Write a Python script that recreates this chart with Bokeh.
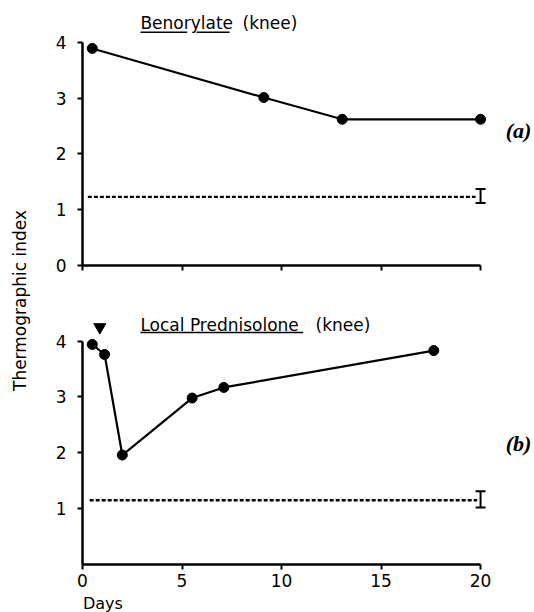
from bokeh.plotting import figure
from bokeh.models import Range1d, FixedTicker, Whisker, ColumnDataSource, TeeHead
from bokeh.layouts import row, column
from bokeh.core.properties import value
from bokeh.embed import file_html
from bokeh.resources import INLINE
import math

# ---------------- data ----------------
top_days = [0.49, 9.11, 13.05, 20.0]
top_index = [3.89, 3.01, 2.62, 2.62]

bot_days = [0.49, 1.11, 2.0, 5.51, 7.10, 17.65]
bot_index = [3.94, 3.76, 1.96, 2.98, 3.17, 3.83]

top_normal_days = [0.27, 19.75]
top_normal_mean = 1.23
top_normal_err = (1.12, 1.37)

bot_normal_days = [0.36, 19.83]
bot_normal_mean = 1.15
bot_normal_err = (1.02, 1.31)

injection_day = [0.87]
injection_mark = [4.25]

x_ticks = [0, 5, 10, 15, 20]
top_y_ticks = [0, 1, 2, 3, 4]
bot_y_ticks = [1, 2, 3, 4]

FONT = "DejaVu Sans"
X_END = 22.71


def clean(p):
    p.xgrid.grid_line_color = None
    p.ygrid.grid_line_color = None
    p.outline_line_color = None


def style_axes(p, yticks, show_x_labels):
    for ax in (p.xaxis[0], p.yaxis[0]):
        ax.axis_line_width = 2.5
        ax.axis_line_color = "black"
        ax.major_tick_line_width = 2
        ax.major_tick_line_color = "black"
        ax.major_tick_in = 0
        ax.major_tick_out = 5
        ax.minor_tick_line_color = None
        ax.major_label_text_font = FONT
        ax.major_label_text_font_size = "17px"
        ax.major_label_text_color = "black"
    xa = p.xaxis[0]
    xa.bounds = (0, 20)
    xa.ticker = FixedTicker(ticks=x_ticks)
    if show_x_labels:
        xa.major_label_standoff = 4
    else:
        # tick marks only, the labels are not drawn
        xa.major_label_text_color = None
        xa.major_label_text_font_size = "10px"
        xa.major_label_standoff = 0
    p.yaxis[0].ticker = FixedTicker(ticks=yticks)
    p.yaxis[0].bounds = (0, 4)
    p.yaxis[0].major_label_standoff = 11
    clean(p)


def add_series(p, days, vals, nd, nmean, nerr):
    p.line(days, vals, line_width=2.2, line_color="black")
    p.scatter(days, vals, size=10, marker="circle", fill_color="black", line_color="black")
    p.line(nd, [nmean, nmean], line_width=2.4, line_color="black", line_dash="4 2")
    src = ColumnDataSource(dict(base=[20.0], lower=[nerr[0]], upper=[nerr[1]]))
    w = Whisker(base="base", lower="lower", upper="upper", source=src, dimension="height",
                line_width=2, line_color="black",
                upper_head=TeeHead(size=10, line_width=2, line_color="black"),
                lower_head=TeeHead(size=10, line_width=2, line_color="black"))
    p.add_layout(w)


def add_title(p, words, y_mid, underline_segs, y_ul):
    for txt, x in words:
        p.text(x=[x], y=[y_mid], text=[txt], text_font=value(FONT), text_font_size="17px",
               text_baseline="middle", text_align="left", text_color="black")
    p.segment(x0=[s[0] for s in underline_segs], y0=[y_ul] * len(underline_segs),
              x1=[s[1] for s in underline_segs], y1=[y_ul] * len(underline_segs),
              line_width=1.5, line_color="black")


def add_tag(p, txt, y):
    p.text(x=[21.26], y=[y], text=[txt], text_font=value("Liberation Serif"),
           text_font_style="bold italic", text_font_size="22px",
           text_baseline="middle", text_align="left", text_color="black")


# ---------------- top panel ----------------
top = figure(width=496, height=290, output_backend="svg", toolbar_location=None,
             x_range=Range1d(0, X_END), y_range=Range1d(0, 4.749),
             min_border_left=44, min_border_right=0, min_border_top=0, min_border_bottom=25)
style_axes(top, top_y_ticks, False)
add_series(top, top_days, top_index, top_normal_days, top_normal_mean, top_normal_err)
add_title(top, [("Benorylate", 2.91), ("(knee)", 8.04)], 4.337, [(2.91, 5.26), (5.73, 7.39)], 4.18)
add_tag(top, "(a)", 2.42)

# ---------------- bottom panel ----------------
bot = figure(width=496, height=304, output_backend="svg", toolbar_location=None,
             x_range=Range1d(0, X_END), y_range=Range1d(0, 4.906),
             min_border_left=44, min_border_right=0, min_border_top=0, min_border_bottom=30)
style_axes(bot, bot_y_ticks, True)
add_series(bot, bot_days, bot_index, bot_normal_days, bot_normal_mean, bot_normal_err)
bot.scatter(injection_day, injection_mark, marker="inverted_triangle", size=12,
            fill_color="black", line_color="black")
add_title(bot, [("Local Prednisolone", 2.91), ("(knee)", 11.71)], 4.297, [(2.91, 11.09)], 4.154)
add_tag(bot, "(b)", 2.17)

# ---------------- x-axis caption ----------------
days_fig = figure(width=496, height=18, output_backend="svg", toolbar_location=None,
                  x_range=Range1d(0, X_END), y_range=Range1d(0, 18),
                  min_border_left=44, min_border_right=0, min_border_top=0, min_border_bottom=0)
days_fig.axis.visible = False
clean(days_fig)
days_fig.text(x=[0.02], y=[9.5], text=["Days"], text_font=value(FONT), text_font_size="16px",
              text_baseline="middle", text_align="left", text_color="black")

# ---------------- shared y label ----------------
lab = figure(width=38, height=612, output_backend="svg", toolbar_location=None,
             x_range=Range1d(0, 38), y_range=Range1d(0, 612),
             min_border_left=0, min_border_right=0, min_border_top=0, min_border_bottom=0)
lab.axis.visible = False
clean(lab)
lab.text(x=[19], y=[312], text=["Thermographic index"], angle=math.pi / 2,
         text_font=value(FONT), text_font_size="17px", text_align="center",
         text_baseline="middle", text_color="black")

layout = row(lab, column(top, bot, days_fig))
open("out.html", "w").write(file_html(layout, INLINE))
